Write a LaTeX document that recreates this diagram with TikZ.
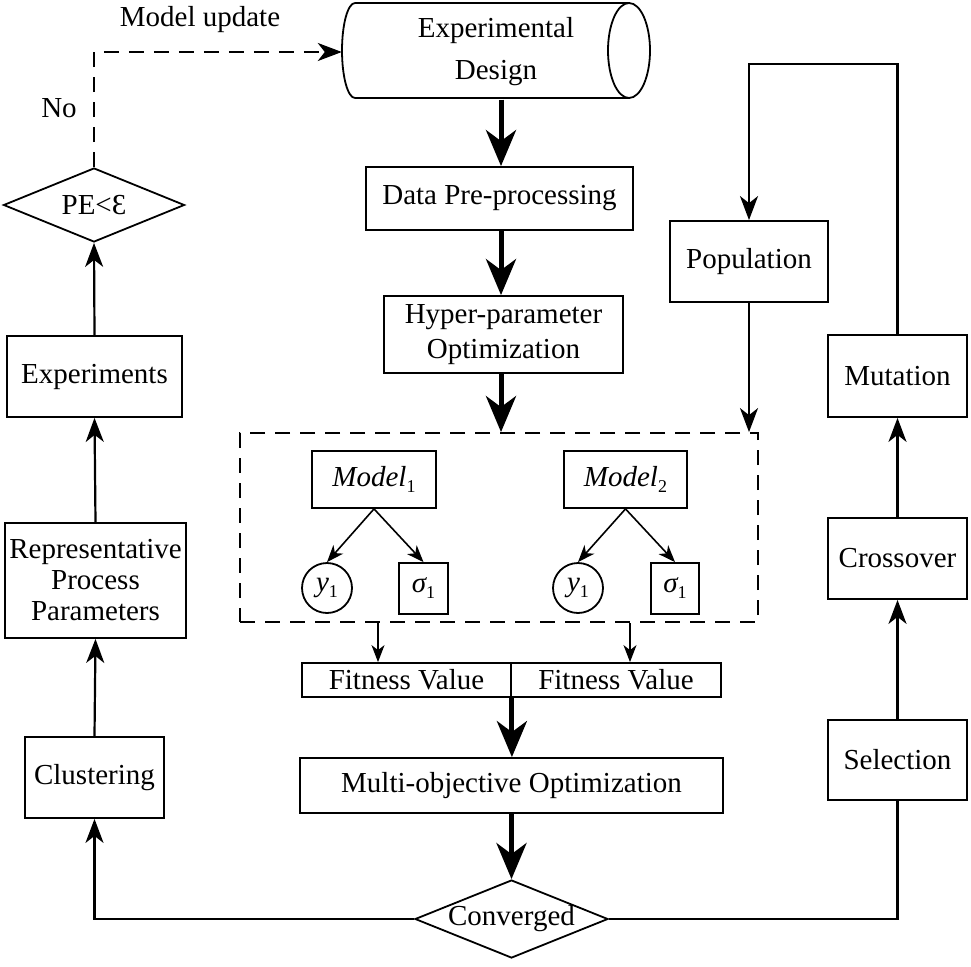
\documentclass[tikz,border=0pt]{standalone}
\usepackage{fontspec}
\setmainfont{Liberation Serif}
\usetikzlibrary{arrows.meta,shapes.geometric}
\newcommand\myfs{\fontsize{29}{34}\selectfont}
\newcommand\mysub[1]{\raisebox{-6pt}{\fontsize{18}{18}\selectfont #1}}
\begin{document}
\begin{tikzpicture}[x=1pt,y=-1pt,
  box/.style={draw, line width=1.8pt, rectangle, inner sep=0pt, align=center, font=\myfs},
  dia/.style={draw, line width=1.8pt, diamond, inner sep=0pt, font=\myfs},
  lbl/.style={font=\myfs, inner sep=0pt},
  plain/.style={line width=2.2pt},
  thinarr/.style={line width=2.2pt, -{Stealth[length=24pt,width=18pt,inset=7pt]}},
  thickarr/.style={line width=5pt, -{Stealth[length=36pt,width=30pt,inset=11pt]}},
  smallarr/.style={line width=1.6pt, -{Stealth[length=17pt,width=13pt,inset=5pt]}},
  dashline/.style={dash pattern=on 15pt off 10pt}]
\useasboundingbox (0,0) rectangle (971,966);

% cylinder
\node[lbl, minimum width=308pt, minimum height=95pt, align=center, text width=300pt, font=\fontsize{29}{42}\selectfont] (cyl) at (496,52) {Experimental\\Design};
\draw[line width=1.8pt] (355,3) -- (629,3);
\draw[line width=1.8pt] (355,98) -- (629,98);
\draw[line width=1.8pt] (355,3) arc[start angle=270, end angle=90, x radius=13, y radius=47.5];
\draw[line width=1.8pt] (629,50.5) ellipse[x radius=21, y radius=47.5];

% central column
\coordinate (ax) at (501,0);
\node[box, minimum width=267pt, minimum height=63pt] (data) at (499.5,198.5) {Data Pre-processing};
\node[box, minimum width=239pt, minimum height=77pt, text width=235pt, font=\fontsize{29}{35}\selectfont] (hyper) at (503.5,334.5) {Hyper-parameter\\Optimization};
\node[draw, line width=1.8pt, dashline, minimum width=518pt, minimum height=189pt, inner sep=0pt] (grp) at (499,527.5) {};

\node[box, minimum width=124pt, minimum height=57pt] (m1) at (374,479.5) {{\itshape Model}\mysub{1}};
\node[box, minimum width=123pt, minimum height=57pt] (m2) at (625.5,479.5) {{\itshape Model}\mysub{2}};
\node[box, circle, minimum size=50pt] (ya) at (327,588) {{\itshape y}\mysub{1}};
\node[box, minimum width=49pt, minimum height=51pt] (sa) at (423.5,588.5) {{\itshape σ}\mysub{1}};
\node[box, circle, minimum size=50pt] (yb) at (578,588) {{\itshape y}\mysub{1}};
\node[box, minimum width=48pt, minimum height=51pt] (sb) at (675,588.5) {{\itshape σ}\mysub{1}};

\node[box, minimum width=209pt, minimum height=34pt] (fa) at (406.5,680) {Fitness Value};
\node[box, minimum width=210pt, minimum height=34pt] (fb) at (616,680) {Fitness Value};
\node[box, minimum width=423pt, minimum height=55pt] (multi) at (511.5,785.5) {Multi-objective Optimization};
\node[dia, minimum width=193pt, minimum height=78pt, aspect=2.47] (conv) at (511.5,919) {Converged};

% left column
\node[dia, minimum width=181pt, minimum height=74pt, aspect=2.45] (pe) at (94,205) {PE<Ɛ};
\node[box, minimum width=175pt, minimum height=81pt] (exp) at (94.5,376.5) {Experiments};
\node[box, minimum width=181pt, minimum height=115pt, text width=178pt, font=\fontsize{29}{31}\selectfont] (rep) at (95.5,580.5) {Representative\\Process\\Parameters};
\node[box, minimum width=139pt, minimum height=81pt] (clus) at (94.5,777.5) {Clustering};

% right column
\node[box, minimum width=158pt, minimum height=81pt] (pop) at (749,261.5) {Population};
\node[box, minimum width=139pt, minimum height=82pt] (mut) at (897.5,376) {Mutation};
\node[box, minimum width=139pt, minimum height=81pt] (cross) at (897.5,558.5) {Crossover};
\node[box, minimum width=139pt, minimum height=80pt] (sel) at (897.5,760) {Selection};

% labels
\node[lbl] (mu) at (200,20) {Model update};
\node[lbl] (no) at (59,108) {No};

% thick arrows
\draw[thickarr] (ax |- cyl.south) -- (ax |- data.north);
\draw[thickarr] (ax |- data.south) -- (ax |- hyper.north);
\draw[thickarr] (ax |- hyper.south) -- (ax |- grp.north);
\draw[thickarr] (fa.south east) -- (fa.south east |- multi.north);
\draw[thickarr] (multi.south) -- (conv.north);

% model arrows
\draw[smallarr] (m1.south) -- (ya.north);
\draw[smallarr] (m1.south) -- (sa.north);
\draw[smallarr] (m2.south) -- (yb.north);
\draw[smallarr] (m2.south) -- (sb.north);

% group to fitness
\coordinate (c1) at (378,0);
\coordinate (c2) at (630,0);
\draw[smallarr] (grp.south -| c1) -- (fa.north -| c1);
\draw[smallarr] (grp.south -| c2) -- (fb.north -| c2);

% loops
\draw[thinarr] (conv.west) -| (clus.south);
\draw[thinarr] (clus.north) -- (rep.south);
\draw[thinarr] (rep.north) -- (exp.south);
\draw[thinarr] (exp.north) -- (pe.south);
\draw[thinarr, dashline] (pe.north) |- (cyl.west);

\draw[plain] (conv.east) -| (sel.south);
\draw[thinarr] (sel.north) -- (cross.south);
\draw[thinarr] (cross.north) -- (mut.south);
\coordinate (topy) at (0,64);
\draw[thinarr] (mut.north) -- (mut.north |- topy) -| (pop.north);
\draw[thinarr] (pop.south) -- (pop.south |- grp.north);
\end{tikzpicture}
\end{document}
